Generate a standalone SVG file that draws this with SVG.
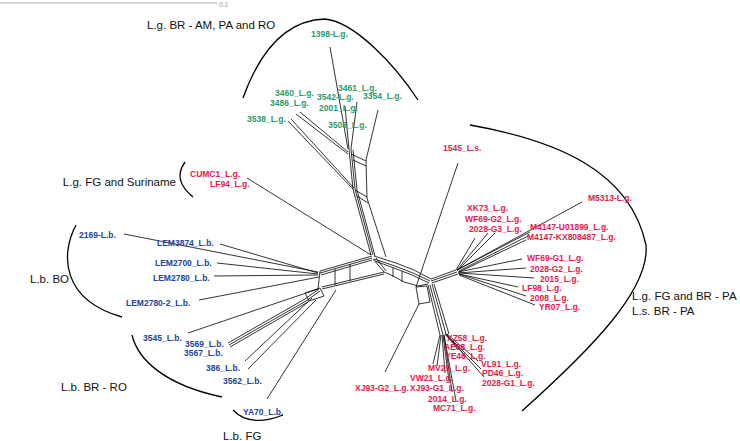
<svg xmlns="http://www.w3.org/2000/svg" width="740" height="441" viewBox="0 0 740 441">
<style>
.t{font-family:"Liberation Sans",Arial,sans-serif;font-size:8.5px;font-weight:bold}
.g{fill:#2a9a6c}.r{fill:#e5194b}.b{fill:#22449b}
.h{font-family:"Liberation Sans",Arial,sans-serif;font-size:11.5px;fill:#111}
.e{stroke:#000;stroke-width:0.8;fill:none;stroke-linejoin:round}
.arc{stroke:#000;stroke-width:1.3;fill:none}
</style>
<rect width="740" height="441" fill="#fff"/>
<g id="scale">
<line x1="0" y1="3" x2="217" y2="3" stroke="#aaa" stroke-width="1"/>
<text x="219" y="7" font-family="Liberation Sans, Arial, sans-serif" font-size="6.5" font-style="italic" fill="#999">0.1</text>
</g>
<g id="connectors">
<path class="e" d="M330,47 L348,149 M357,102 L351,149 M345,106 L349,149 M300,112 L348,152 M296,114 L348,154 M288,121 L353,189 M291,119 L354,188 M378,110 L366,160 L367,198 L386,257 M349,149 L353,189 L371,255 M351,149 L355,189 L373,255 M353,150 L357,190 L375,256 M351,154 L366,161 M353,160 L366,166 M355,190 L367,197 M357,196 L368,203 M247,178 L371,255"/>
<path class="e" d="M374,256 L396,263 L414,270 L431,279 M374,259 L395,266 L413,273 L430,281 M375,261 L394,268 L412,275 L429,283 M384,272 L393,276 L404,282 L418,286 L428,284 M373,259 L384,272 M376,258 L386,271 M393,268 L393,277 M402,271 L402,282 M416,287 L427,286 L430,302 L419,304 Z M458,163 L416,287 M385,372 L419,304"/>
<path class="e" d="M372,256 L320,271 M372,258 L320,273 M372,260 L321,275 M384,272 L322,287 M384,274 L322,289 M335,269 L335,285 M350,264 L350,281 M320,271 L318,289 M124,234 L318,272 M220,244 L318,273 M217,263 L318,274 M214,276 L318,275 M199,300 L319,277 M188,333 L318,289 M228,343 L305,299 L319,289 M229,345 L306,301 L320,291 M230,347 L308,302 M245,361 L312,298 M248,369 L316,300 M267,399 L336,290 M305,293 L320,288 L324,296 L309,301 Z"/>
<path class="e" d="M431,279 L456,270 M431,281 L457,272 M432,283 L458,274 M457,270 L582,202 M459,269 L530,232 M459,271 L528,236 M459,272 L526,240 M456,270 L475,238 M457,270 L488,233 M457,271 L495,233 M458,272 L522,259 M458,273 L526,268 M459,273 L534,278 M459,274 L518,287 M459,274 L526,296 M459,275 L535,305"/>
<path class="e" d="M428,285 L440,335 M430,285 L443,335 M432,284 L446,334 M434,284 L449,334 M440,335 L433,364 M441,335 L437,366 M442,335 L445,373 M443,335 L449,381 M444,335 L452,392 M444,335 L456,401 M445,334 L450,340 M446,334 L458,350 M446,334 L466,357 M447,334 L478,361 M447,335 L481,369 M447,335 L484,377"/>
</g>
<g id="brackets">
<path class="arc" d="M243,98 C262,45 290,20 325,19 C355,22 395,65 418,100"/>
<path class="arc" d="M185,162 Q172,180 193,197"/>
<path class="arc" d="M76,225 C60,255 62,300 122,317"/>
<path class="arc" d="M132,335 C138,360 165,385 222,397"/>
<path class="arc" d="M233,410 Q250,428 283,415"/>
<path class="arc" d="M470,125 C555,140 630,170 646,245 C650,290 590,350 522,411"/>
</g>
<g id="groups">
<text class="h" x="147" y="29">L.g. BR - AM, PA and RO</text>
<text class="h" x="176" y="186" text-anchor="end">L.g. FG and Suriname</text>
<text class="h" x="69" y="283" text-anchor="end">L.b. BO</text>
<text class="h" x="61" y="391">L.b. BR - RO</text>
<text class="h" x="223" y="440">L.b. FG</text>
<text class="h" x="632" y="300">L.g. FG and BR - PA</text>
<text class="h" x="632" y="315">L.s. BR - PA</text>
</g>
<g id="taxa-green" class="t g">
<g id="n1398"><text x="311" y="37">1398-L.g.</text></g>
<g id="n3460"><text x="275" y="96">3460_L.g.</text></g>
<g id="n3486"><text x="270" y="106">3486_L.g.</text></g>
<g id="n3538"><text x="247" y="122">3538_L.g.</text></g>
<g id="n3461"><text x="338" y="91">3461_L.g.</text></g>
<g id="n3542"><text x="317" y="100">3542-L.g.</text></g>
<g id="n3354"><text x="363" y="99">3354_L.g.</text></g>
<g id="n2001"><text x="319" y="111">2001_L.g.</text></g>
<g id="n3508"><text x="328" y="128">3508_L.g.</text></g>
</g>
<g id="taxa-red" class="t r">
<g id="nCUMC1"><text x="190" y="177">CUMC1_L.g.</text></g>
<g id="nLF94"><text x="210" y="187">LF94_L.g.</text></g>
<g id="n1545"><text x="443" y="151">1545_L.s.</text></g>
<g id="nXK73"><text x="467" y="211">XK73_L.g.</text></g>
<g id="nWF69G2"><text x="465" y="222">WF69-G2_L.g.</text></g>
<g id="n2028G3"><text x="469" y="232">2028-G3_L.g.</text></g>
<g id="nM4147U"><text x="530" y="230">M4147-U01899_L.g.</text></g>
<g id="nM4147K"><text x="527" y="240">M4147-KX808487_L.g.</text></g>
<g id="nM5313"><text x="588" y="201">M5313-L.g.</text></g>
<g id="nWF69G1"><text x="527" y="261">WF69-G1_L.g.</text></g>
<g id="n2028G2"><text x="530" y="272">2028-G2_L.g.</text></g>
<g id="n2015"><text x="540" y="282">2015_L.g.</text></g>
<g id="nLF98"><text x="522" y="291">LF98_L.g.</text></g>
<g id="n2008"><text x="530" y="301">2008_L.g.</text></g>
<g id="nYR07"><text x="539" y="310">YR07_L.g.</text></g>
<g id="nXZ58"><text x="447" y="341">XZ58_L.g.</text></g>
<g id="nAE08"><text x="444" y="350">AE08_L.g.</text></g>
<g id="nYE46"><text x="445" y="359">YE46_L.g.</text></g>
<g id="nMV29"><text x="428" y="371">MV29_L.g.</text></g>
<g id="nVL91"><text x="481" y="367">VL91_L.g.</text></g>
<g id="nPD46"><text x="482" y="376">PD46_L.g.</text></g>
<g id="n2028G1"><text x="482" y="386">2028-G1_L.g.</text></g>
<g id="nVW21"><text x="410" y="381">VW21_L.g.</text></g>
<g id="nXJ93G2"><text x="355" y="391">XJ93-G2_L.g.</text></g>
<g id="nXJ93G1"><text x="410" y="391">XJ93-G1_L.g.</text></g>
<g id="n2014"><text x="428" y="402">2014_L.g.</text></g>
<g id="nMC71"><text x="433" y="411">MC71_L.g.</text></g>
</g>
<g id="taxa-blue" class="t b">
<g id="n2169"><text x="79" y="238">2169-L.b.</text></g>
<g id="nLEM3874"><text x="157" y="246">LEM3874_L.b.</text></g>
<g id="nLEM2700"><text x="155" y="266">LEM2700_L.b.</text></g>
<g id="nLEM2780"><text x="153" y="281">LEM2780_L.b.</text></g>
<g id="nLEM27802"><text x="126" y="306">LEM2780-2_L.b.</text></g>
<g id="n3545"><text x="143" y="341">3545_L.b.</text></g>
<g id="n3569"><text x="185" y="347">3569_L.b.</text></g>
<g id="n3567"><text x="184" y="356">3567_L.b.</text></g>
<g id="n386"><text x="206" y="371">386_L.b.</text></g>
<g id="n3562"><text x="223" y="384">3562_L.b.</text></g>
<g id="nYA70"><text x="243" y="415">YA70_L.b.</text></g>
</g>
</svg>
